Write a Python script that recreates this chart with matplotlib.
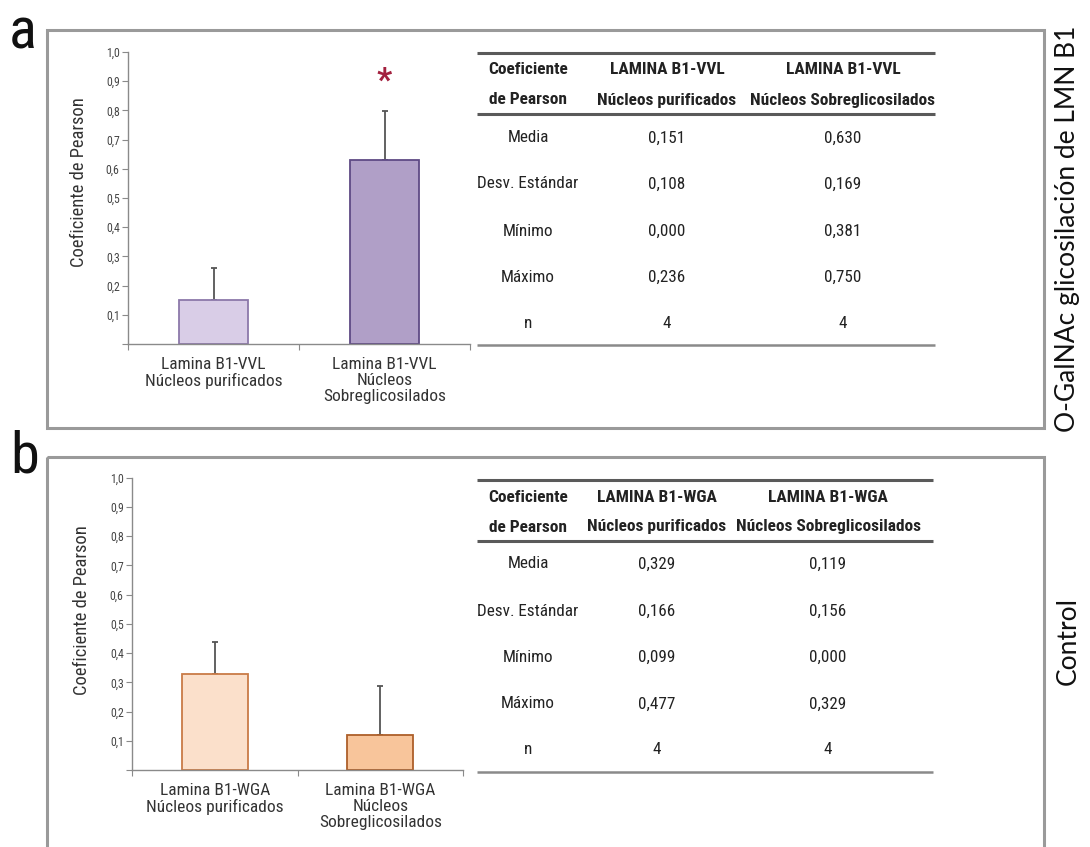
import matplotlib
matplotlib.use("Agg")
import matplotlib.pyplot as plt
from matplotlib import font_manager as fm
from matplotlib.patches import Rectangle

# ---- data -------------------------------------------------------------
vvl_labels = ["Lamina B1-VVL\nNúcleos purificados",
              "Lamina B1-VVL\nNúcleos\nSobreglicosilados"]
vvl_mean = [0.151, 0.630]
vvl_sd = [0.108, 0.169]
vvl_min = [0.000, 0.381]
vvl_max = [0.236, 0.750]
vvl_n = [4, 4]

wga_labels = ["Lamina B1-WGA\nNúcleos purificados",
              "Lamina B1-WGA\nNúcleos\nSobreglicosilados"]
wga_mean = [0.329, 0.119]
wga_sd = [0.166, 0.156]
wga_min = [0.099, 0.000]
wga_max = [0.477, 0.329]
wga_n = [4, 4]
wga_err = [0.11, 0.17]

row_names = ["Media", "Desv. Estándar", "Mínimo", "Máximo", "n"]
vvl_headers = [("Coeficiente", "de Pearson"), ("LAMINA B1-VVL", "Núcleos purificados"),
               ("LAMINA B1-VVL", "Núcleos Sobreglicosilados")]
wga_headers = [("Coeficiente", "de Pearson"), ("LAMINA B1-WGA", "Núcleos purificados"),
               ("LAMINA B1-WGA", "Núcleos Sobreglicosilados")]
y_ticks = [0.1, 0.2, 0.3, 0.4, 0.5, 0.6, 0.7, 0.8, 0.9, 1.0]

# ---- fonts ------------------------------------------------------------
available = {f.name for f in fm.fontManager.ttflist}
NARROW = "Liberation Sans"
for cand in ["Roboto Condensed", "Liberation Sans Narrow", "Open Sans Condensed",
             "DejaVu Sans Condensed", "Noto Sans Condensed"]:
    if cand in available:
        NARROW = cand
        break
plt.rcParams["font.family"] = [NARROW, "DejaVu Sans"]

W, H = 1090, 847
fig = plt.figure(figsize=(W / 100, H / 100), dpi=100)
fig.patch.set_facecolor("white")

# overlay axes in pixel coordinates for frames, tables and side labels
ov = fig.add_axes([0, 0, 1, 1], zorder=0)
ov.set_xlim(0, W)
ov.set_ylim(H, 0)
ov.axis("off")


def fmt(v):
    return f"{v:.3f}".replace(".", ",")


def px_rect(x0, y_top, x1, y_bottom):
    return [x0 / W, 1 - y_bottom / H, (x1 - x0) / W, (y_bottom - y_top) / H]


def bar_panel(rect, labels, means, errs, fills, edges, ylabel_xy):
    ax = fig.add_axes(rect, zorder=2)
    ax.set_facecolor("none")
    x = [0, 1]
    ax.errorbar(x, means, yerr=[[0, 0], errs], fmt="none", ecolor="#555555",
                elinewidth=1.3, capsize=2.5, capthick=1.3, zorder=1)
    ax.bar(x, means, width=0.4, color=fills, edgecolor=edges, linewidth=1.3, zorder=2)
    ax.set_xlim(-0.5, 1.5)
    ax.set_ylim(0, 1.0)
    for s in ["top", "right"]:
        ax.spines[s].set_visible(False)
    for s in ["left", "bottom"]:
        ax.spines[s].set_color("#8a8a8a")
        ax.spines[s].set_linewidth(1.0)
    ax.set_yticks([0] + y_ticks)
    ax.set_yticklabels([""] + [f"{t:.1f}".replace(".", ",") for t in y_ticks],
                       fontsize=8.5, color="#444444")
    ax.tick_params(axis="y", length=4, width=0.8, color="#8a8a8a", pad=2)
    ax.set_xticks(x)
    ax.set_xticklabels(labels, fontsize=12.5, color="#333333", linespacing=1.1,
                       va="top")
    ax.tick_params(axis="x", length=0, pad=9)
    ax.set_xticks([-0.5, 0.5, 1.5], minor=True)
    ax.tick_params(axis="x", which="minor", length=4, width=0.8, color="#8a8a8a")
    ax.set_ylabel("Coeficiente de Pearson", fontsize=13.3, color="#333333",
                  va="center")
    ax.yaxis.set_label_coords(*ylabel_xy)
    return ax


def table(x0, x1, y_top, y_mid, y_bot, hdr_ys, row_ys, col_xs, headers, rows):
    ov.plot([x0, x1], [y_top, y_top], color="#5a5a5a", lw=2.2, solid_capstyle="butt")
    ov.plot([x0, x1], [y_mid, y_mid], color="#5a5a5a", lw=2.2, solid_capstyle="butt")
    ov.plot([x0, x1], [y_bot, y_bot], color="#8a8a8a", lw=1.8, solid_capstyle="butt")
    for cx, h in zip(col_xs, headers):
        for hy, line in zip(hdr_ys, h):
            ov.text(cx, hy, line, ha="center", va="center", fontsize=12.5,
                    fontweight="bold", color="#222222")
    for ry, name, vals in zip(row_ys, row_names, rows):
        ov.text(col_xs[0], ry, name, ha="center", va="center", fontsize=12.3,
                color="#222222")
        for cx, v in zip(col_xs[1:], vals):
            ov.text(cx, ry, v, ha="center", va="center", fontsize=12.3, color="#222222")


# ---- frames and panel letters -----------------------------------------
ov.add_patch(Rectangle((47, 30), 997, 398, fill=False, ec="#9a9a9a", lw=2.2))
ov.add_patch(Rectangle((47, 457), 997, 420, fill=False, ec="#9a9a9a", lw=2.2))
ov.text(23, 33, "a", fontsize=42, ha="center", va="center", color="#111111")
ov.text(25, 457, "b", fontsize=42, ha="center", va="center", color="#111111")
ov.text(1068, 229, "O-GalNAc glicosilación de LMN B1", rotation=90, fontsize=19,
        ha="center", va="center", color="#111111", family="Lato")
ov.text(1068, 641, "Control", rotation=90, fontsize=19, ha="center", va="center",
        color="#111111", family="Lato")

# ---- panel a ----------------------------------------------------------
ax_a = bar_panel(px_rect(128, 52, 470, 344), vvl_labels, vvl_mean, vvl_sd,
                 ["#d9cde7", "#b09fc7"], ["#8c78aa", "#5f4a85"], (-0.143, 0.555))
ax_a.text(1, 0.90, "*", ha="center", va="center", fontsize=24, color="#a3203e",
          fontweight="bold")

table(477, 935, 53, 114, 345, (70, 100), [138, 184, 231, 277, 323], [528, 667, 843],
      vvl_headers,
      [[fmt(v) for v in vvl_mean], [fmt(v) for v in vvl_sd],
       [fmt(v) for v in vvl_min], [fmt(v) for v in vvl_max],
       [str(v) for v in vvl_n]])

# ---- panel b ----------------------------------------------------------
bar_panel(px_rect(132, 477.7, 463, 770), wga_labels, wga_mean, wga_err,
          ["#fbe0cb", "#f8c59b"], ["#c97b47", "#ad5f2a"], (-0.151, 0.547))

table(477, 933, 480, 541, 772, (498, 527), [564, 611, 657, 704, 750], [528, 657, 828],
      wga_headers,
      [[fmt(v) for v in wga_mean], [fmt(v) for v in wga_sd],
       [fmt(v) for v in wga_min], [fmt(v) for v in wga_max],
       [str(v) for v in wga_n]])

fig.savefig("out.png", dpi=100, facecolor="white")
